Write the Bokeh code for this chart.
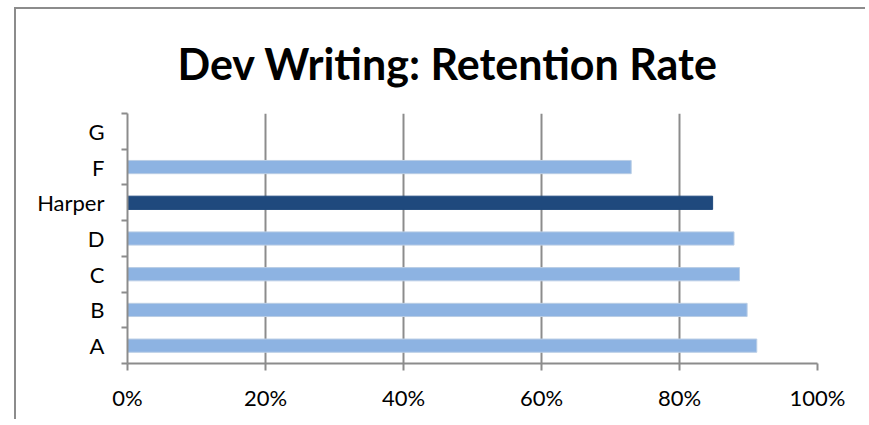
from bokeh.plotting import figure
from bokeh.models import FixedTicker, NumeralTickFormatter, Range1d, Title, ColumnDataSource
from bokeh.embed import file_html
from bokeh.resources import INLINE

categories = ["A", "B", "C", "D", "Harper", "F", "G"]
retention = [0.912, 0.898, 0.887, 0.879, 0.848, 0.730, None]
highlight = "Harper"
x_ticks = [0.0, 0.2, 0.4, 0.6, 0.8, 1.0]

LIGHT = "#8DB3E2"
DARK = "#1F497D"
GRID = "#8C8C8C"
FONT = "Lato"

ys, ws, fills, lines = [], [], [], []
for i, (c, v) in enumerate(zip(categories, retention)):
    if v is None:
        continue
    ys.append(i + 0.5)
    ws.append(v)
    fills.append(DARK if c == highlight else LIGHT)
    lines.append(DARK if c == highlight else "#B9CDE5")
src = ColumnDataSource(dict(y=ys, right=ws, fill=fills, line=lines))

p = figure(width=851, height=412, output_backend="svg", toolbar_location=None,
           x_range=Range1d(0, 1), y_range=Range1d(0, len(categories)),
           min_border_left=111, min_border_right=50, min_border_top=104, min_border_bottom=58)
p.styles = {"border-left": "2px solid #8C8C8C", "border-top": "2px solid #8C8C8C",
            "margin-left": "14px", "margin-top": "7px"}
p.outline_line_color = None

p.hbar(y="y", right="right", left=0, height=0.37, fill_color="fill", line_color="line",
       line_width=1, source=src)

t = Title(text="Dev Writing: Retention Rate", align="left", text_font=FONT,
          text_font_size="43px", text_font_style="bold", text_color="black",
          offset=50, standoff=49)
p.add_layout(t, "above")

# x axis
p.xaxis.ticker = FixedTicker(ticks=x_ticks)
p.xaxis.formatter = NumeralTickFormatter(format="0%")
p.xaxis.axis_line_color = GRID
p.xaxis.axis_line_width = 2
p.xaxis.major_tick_line_color = GRID
p.xaxis.major_tick_line_width = 2
p.xaxis.major_tick_in = 0
p.xaxis.major_tick_out = 7
p.xaxis.minor_tick_line_color = None
p.xaxis.major_label_text_font = FONT
p.xaxis.major_label_text_font_size = "22px"
p.xaxis.major_label_text_color = "black"
p.xaxis.major_label_standoff = 13

# y axis: labels at centres, ticks at boundaries
centres = [i + 0.5 for i in range(len(categories))]
bounds = [float(i) for i in range(len(categories) + 1)]
p.yaxis.ticker = FixedTicker(ticks=centres, minor_ticks=bounds)
p.yaxis.major_label_overrides = {c: lab for c, lab in zip(centres, categories)}
p.yaxis.axis_line_color = GRID
p.yaxis.axis_line_width = 2
p.yaxis.major_tick_line_color = None
p.yaxis.major_tick_out = 0
p.yaxis.major_tick_in = 0
p.yaxis.minor_tick_line_color = GRID
p.yaxis.minor_tick_line_width = 2
p.yaxis.minor_tick_out = 6
p.yaxis.minor_tick_in = 0
p.yaxis.major_label_text_font = FONT
p.yaxis.major_label_text_font_size = "22px"
p.yaxis.major_label_text_color = "black"
p.yaxis.major_label_standoff = 17

p.xgrid.grid_line_color = GRID
p.xgrid.grid_line_width = 2
p.ygrid.grid_line_color = None

open("out.html", "w").write(file_html(p, INLINE))
